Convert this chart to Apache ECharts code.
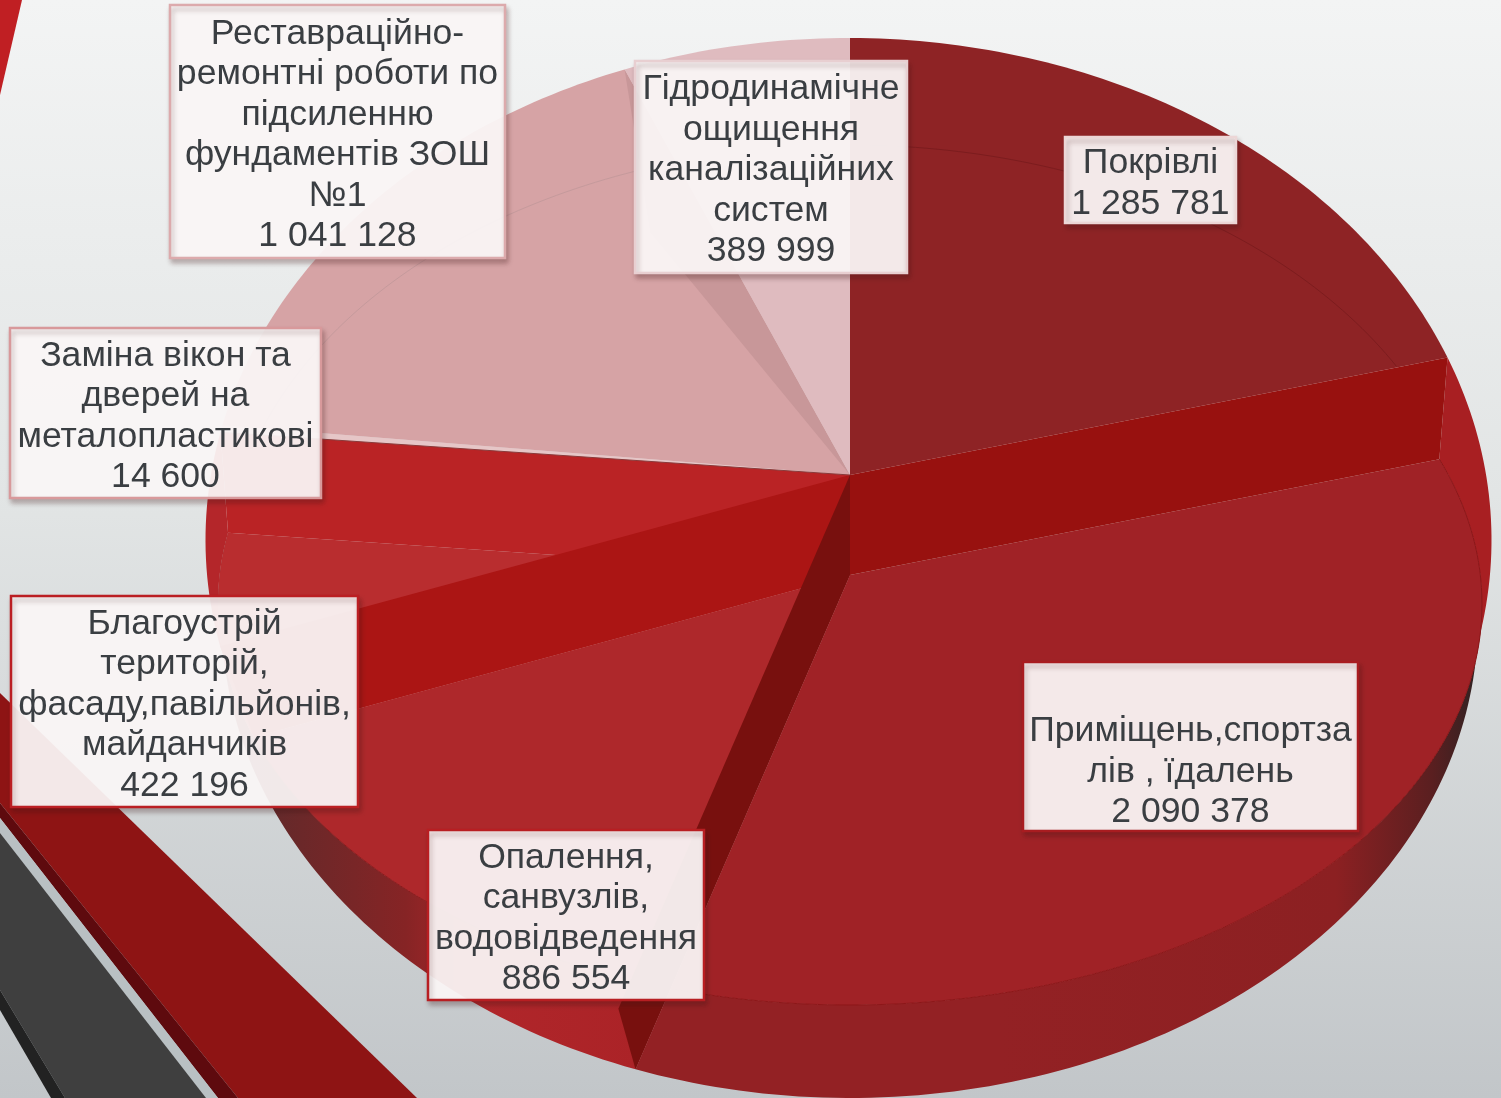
<!DOCTYPE html>
<html><head><meta charset="utf-8">
<style>html,body{margin:0;padding:0;background:#e6e8e8}#c{width:1501px;height:1098px}</style>
<script src="https://cdn.jsdelivr.net/npm/echarts@6/dist/echarts.min.js"></script>
</head><body><div id="c"></div>
<script>
// ---- data ----
const categories = [
  'Покрівлі',
  'Приміщень,спортза\nлів , їдалень',
  'Опалення,\nсанвузлів,\nводовідведення',
  'Благоустрій\nтериторій,\nфасаду,павільйонів,\nмайданчиків',
  'Заміна вікон та\nдверей на\nметалопластикові',
  'Реставраційно-\nремонтні роботи по\nпідсиленню\nфундаментів ЗОШ\n№1',
  'Гідродинамічне\nощищення\nканалізаційних\nсистем'
];
const values = [1285781, 2090378, 886554, 422196, 14600, 1041128, 389999];

// ---- style ----
const faceColors = ['#8e2325', '#a02226', '#ae282b', '#b92d2f', '#e6c6c7', '#d6a3a5', '#dfbbbf'];
const raised     = [true, false, false, false, true, true, true];
const borderColors = ['#ecd6d6', '#a81c20', '#b81e22', '#bb1f23', '#d8999b', '#dcaaac', '#e8cfd1'];
const labelBoxes = [
  [1065, 137, 171, 86], [1023, 662, 335, 169], [428, 830, 276, 170], [11, 596, 347, 211],
  [10, 328, 311, 170], [170, 5, 335, 253], [635, 61, 272, 212]
];
const labelShift = [0, 22, 0, 0, 0, 0, 0];
const UP   = {cx: 848.5, cy: 540, rx: 643, ry: 502};
const LOW  = {cx: 850, cy: 604, rx: 632, ry: 401};
const BASE = {cx: 850, cy: 620, rx: 628, ry: 478};
const THIN = {cx: 850, cy: 575, rx: 625, ry: 430};
const APEX_UP = [850, 475], APEX_LOW = [850, 575];
const TILT = 0.76, BAND_REACH = 0.82;
const TEXT = '#3a3e42', FONT = '"Liberation Sans", Arial, sans-serif';

const total = values.reduce((a, b) => a + b, 0);
function sliceAngles(i) {
  let s = 0;
  for (let k = 0; k < i; k++) s += values[k];
  return [s / total * 360, (s + values[i]) / total * 360];
}
// where the slice edge leaving the apex at the data angle meets an outline
function hit(p, apex, deg) {
  const r = deg * Math.PI / 180;
  const dx = Math.sin(r), dy = -Math.cos(r) * TILT;
  const ox = (apex[0] - p.cx) / p.rx, oy = (apex[1] - p.cy) / p.ry;
  const ux = dx / p.rx, uy = dy / p.ry;
  const A = ux * ux + uy * uy, B = 2 * (ox * ux + oy * uy), C = ox * ox + oy * oy - 1;
  const t = (-B + Math.sqrt(B * B - 4 * A * C)) / (2 * A);
  return [apex[0] + dx * t, apex[1] + dy * t];
}
function arc(p, apex, a, b) {
  const out = [], n = Math.max(2, Math.ceil(Math.abs(b - a)));
  for (let k = 0; k <= n; k++) out.push(hit(p, apex, a + (b - a) * k / n));
  return out;
}
function thinPt(deg) {
  const r = deg * Math.PI / 180;
  return [THIN.cx + THIN.rx * Math.sin(r), THIN.cy - THIN.ry * Math.cos(r)];
}
function thinArc(a, b) {
  const out = [];
  for (let d = a; d <= b; d += 1) out.push(thinPt(d));
  return out;
}
function toward(from, to, f) {
  return [from[0] + (to[0] - from[0]) * f, from[1] + (to[1] - from[1]) * f];
}
const poly = (points, fill) => ({type: 'polygon', shape: {points}, style: {fill}});
const line = (points, stroke, lw) => ({type: 'polyline', shape: {points}, style: {fill: 'none', stroke, lineWidth: lw || 1}});
const grad = (x0, y0, x1, y1, stops) => new echarts.graphic.LinearGradient(x0, y0, x1, y1,
  stops.map(c => ({offset: c[0], color: c[1]})), true);

function series(name, z, draw) {
  return {
    type: 'custom', name, coordinateSystem: 'none', z, silent: true, animation: false,
    data: values.map((v, i) => [v, i]),
    renderItem: (params) => ({type: 'group', children: draw(params.dataIndex) || []})
  };
}

const sideFill = [null,
  grad(1480, 0, 1000, 0, [[0, '#2e2222'], [0.1, '#5a1f20'], [0.3, '#8c2022'], [1, '#932124']]),
  grad(250, 0, 640, 0, [[0, '#5e2a2b'], [0.4, '#862425'], [0.58, '#b0262a'], [1, '#ab2327']]),
  '#7a2628'];

const sideSeries = series('side', 3, i => {
  if (raised[i]) return [];
  const [a, b] = sliceAngles(i);
  return [poly(arc(BASE, APEX_LOW, a, b).concat(arc(LOW, APEX_LOW, b, a)), sideFill[i])];
});
const rimSeries = series('rim', 4, i => {
  const [a, b] = sliceAngles(i);
  if (i === 1) return [poly(arc(UP, APEX_UP, a, a + 32.5).concat(arc(LOW, APEX_LOW, a + 22, a)), '#a81f22')];
  if (i === 3) return [poly(arc(UP, APEX_UP, a, b).concat(arc(LOW, APEX_LOW, b, a)), '#b4262a')];
  return [];
});
const faceSeries = series('face', 5, i => {
  const [a, b] = sliceAngles(i);
  return raised[i]
    ? [poly([APEX_UP].concat(arc(UP, APEX_UP, a, b)), faceColors[i])]
    : [poly([APEX_LOW].concat(arc(LOW, APEX_LOW, a, b)), faceColors[i])];
});
const wallSeries = series('wall', 6, i => {
  const [a, b] = sliceAngles(i);
  if (i === 3) return [poly([APEX_UP, hit(UP, APEX_UP, b), hit(LOW, APEX_LOW, b), APEX_LOW], '#ba2325')];
  return [];
});
const wallSeries2 = series('wall2', 7, i => {
  const [a, b] = sliceAngles(i);
  if (i === 0) return [poly([APEX_UP, hit(UP, APEX_UP, b), hit(LOW, APEX_LOW, b), APEX_LOW], '#98110f')];
  if (i === 2) return [poly([APEX_UP, hit(UP, APEX_UP, b), hit(LOW, APEX_LOW, b), APEX_LOW], '#ab1514')];
  if (i === 5) return [poly([APEX_UP, hit(UP, APEX_UP, b), toward(APEX_UP, thinPt(b), BAND_REACH)], '#c89799')];
  return [];
});
const arcSeries = series('arc', 8, i => {
  const [a, b] = sliceAngles(i);
  if (i === 0) return [line(thinArc(a, 61), '#7c1c1e')];
  if (i === 1) return [line(arc(LOW, APEX_LOW, a, b), '#8d1618')];
  if (i === 2) return [line(arc(LOW, APEX_LOW, a, b), '#8d1a1c')];
  if (i === 5) return [line(thinArc(a + 14, b + 3), '#c59a9c')];
  if (i === 4) return [line([APEX_UP, hit(UP, APEX_UP, a)], '#8a3a3a', 1.2)];
  return [];
});
const wedgeSeries = series('wedge', 9, i => {
  const [a, b] = sliceAngles(i);
  if (i === 1) return [poly([APEX_UP, APEX_LOW, hit(BASE, APEX_LOW, b), hit(UP, APEX_UP, b)], '#78100e')];
  return [];
});
const fmt = v => String(v).replace(/\B(?=(\d{3})+(?!\d))/g, ' ');
const labelSeries = series('labels', 20, i => {
  const [x, y, w, h] = labelBoxes[i];
  return [
    {type: 'rect', shape: {x, y, width: w, height: h},
     style: {fill: 'rgba(254,251,251,0.92)', stroke: borderColors[i], lineWidth: 2.5,
             shadowColor: 'rgba(60,20,20,0.3)', shadowBlur: 5, shadowOffsetX: 2, shadowOffsetY: 4}},
    {type: 'text', style: {x: x + w / 2, y: y + h / 2 + 3.5 + labelShift[i], text: categories[i] + '\n' + fmt(values[i]),
       fill: TEXT, font: '35.6px ' + FONT, lineHeight: 40.5, align: 'center', verticalAlign: 'middle'}}
  ];
});

const decor = [
  [[[0, 0], [22, 0], [0, 95]], '#c01f23'],
  [[[0, 693], [417, 1098], [238, 1098], [0, 803]], '#8e1414'],
  [[[0, 803], [238, 1098], [218, 1098], [0, 818]], '#5e0a0e'],
  [[[0, 818], [218, 1098], [206, 1098], [0, 833]], '#b9c0c3'],
  [[[0, 833], [206, 1098], [65, 1098], [0, 990]], '#3f3f3f'],
  [[[0, 990], [65, 1098], [51, 1098], [0, 1010]], '#222222']
];

const chart = echarts.init(document.getElementById('c'), null, {renderer: 'canvas'});
chart.setOption({
  animation: false,
  backgroundColor: new echarts.graphic.LinearGradient(0, 0, 0, 1, [
    {offset: 0, color: '#f3f4f4'}, {offset: 0.45, color: '#e2e5e5'}, {offset: 1, color: '#c2c6c9'}]),
  graphic: {elements: decor.map(d => ({type: 'polygon', silent: true, shape: {points: d[0]}, style: {fill: d[1]}, z: 1}))},
  series: [sideSeries, rimSeries, faceSeries, wallSeries, wallSeries2, arcSeries, wedgeSeries, labelSeries]
});
</script></body></html>
